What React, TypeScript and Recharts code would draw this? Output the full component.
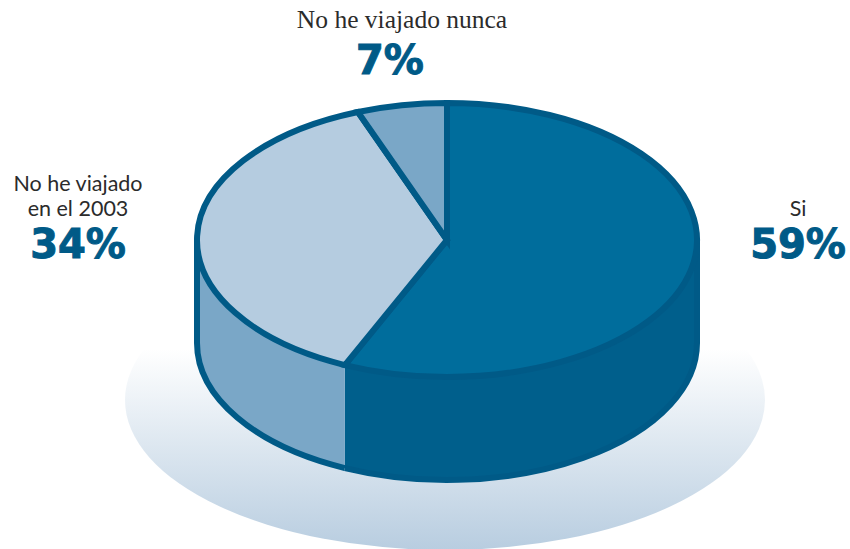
import React from "react";
import { PieChart, Pie } from "recharts";

// Slice names and the percentages printed on the picture.
const categories = ["Si", "No he viajado en el 2003", "No he viajado nunca"];
const percentLabels = ["59%", "34%", "7%"];
const drawnShares = [56.7, 37.5, 5.8];
const backdropValues = [100];

const topColors = ["#006d9c", "#b5cce0", "#7aa7c7"];
const wallColors = ["#005f8c", "#7aa7c7", "#7aa7c7"];
const STROKE = "#005a87";
const STROKE_W = 6;
const SQUASH = 137 / 250;
const DEPTH = 103;

const sliceData = categories.map((name, i) => ({ name, value: drawnShares[i] }));
const backdropData = backdropValues.map((value) => ({ name: "base", value }));

const pt = (cx: number, cy: number, rx: number, ry: number, deg: number) => {
  const a = (deg * Math.PI) / 180;
  return [cx + rx * Math.cos(a), cy - ry * Math.sin(a)];
};

const TopSlice = (p: any) => {
  const rx = p.outerRadius;
  const ry = rx * SQUASH;
  const [x0, y0] = pt(p.cx, p.cy, rx, ry, p.startAngle);
  const [x1, y1] = pt(p.cx, p.cy, rx, ry, p.endAngle);
  const large = p.startAngle - p.endAngle > 180 ? 1 : 0;
  return (
    <path
      d={`M${p.cx},${p.cy}L${x0},${y0}A${rx},${ry} 0 ${large} 1 ${x1},${y1}Z`}
      fill={topColors[p.index ?? categories.indexOf(p.name)]}
      stroke={STROKE}
      strokeWidth={STROKE_W}
      strokeLinejoin="miter"
    />
  );
};

const WallSlice = (p: any) => {
  const rx = p.outerRadius;
  const ry = rx * SQUASH;
  const s = Math.min(p.startAngle, 0);
  const e = Math.max(p.endAngle, -180);
  if (s <= e) return <g />;
  const [x0, y0] = pt(p.cx, p.cy, rx, ry, s);
  const [x1, y1] = pt(p.cx, p.cy, rx, ry, e);
  const fill = wallColors[p.index ?? categories.indexOf(p.name)];
  const edge =
    (s === 0 ? `M${x0},${y0}L${x0},${y0 + DEPTH}` : `M${x0},${y0 + DEPTH}`) +
    `A${rx},${ry} 0 0 1 ${x1},${y1 + DEPTH}` +
    (e === -180 ? `L${x1},${y1}` : "");
  return (
    <g>
      <path
        d={`M${x0},${y0}A${rx},${ry} 0 0 1 ${x1},${y1}L${x1},${y1 + DEPTH}A${rx},${ry} 0 0 0 ${x0},${y0 + DEPTH}Z`}
        fill={fill}
        stroke="none"
      />
      <path d={edge} fill="none" stroke={STROKE} strokeWidth={STROKE_W} />
    </g>
  );
};

const Backdrop = (p: any) => {
  const rx = p.outerRadius;
  const ry = (rx * 150) / 320;
  return <ellipse cx={p.cx} cy={p.cy} rx={rx} ry={ry} fill="url(#baseFade)" />;
};

const labelFont = "Lato, 'Open Sans', sans-serif";
const percentStyle = {
  fontFamily: "'DejaVu Sans'",
  fontWeight: 700,
  fontSize: 40,
  fill: "#005a87",
  stroke: "#005a87",
  strokeWidth: 1,
  textAnchor: "middle" as const,
};
const captionStyle = { fontFamily: labelFont, fontSize: 21.5, fill: "#2b2b2b", textAnchor: "middle" as const };

export default function App() {
  return (
    <div style={{ position: "absolute", left: 0, top: 0, width: 850, height: 549, overflow: "hidden", background: "#fff" }}>
      <PieChart width={850} height={549} margin={{ top: 0, right: 0, bottom: 0, left: 0 }}>
        <defs>
          <linearGradient id="baseFade" x1="0" y1="0" x2="0" y2="1">
            <stop offset="0.33" stopColor="#ffffff" />
            <stop offset="1" stopColor="#b8cde0" />
          </linearGradient>
        </defs>
        <Pie data={backdropData} dataKey="value" cx={445} cy={400} outerRadius={320} innerRadius={0} startAngle={90} endAngle={-270} stroke="none" isAnimationActive={false} shape={Backdrop} />
        <Pie data={sliceData} dataKey="value" cx={447} cy={240} outerRadius={250} innerRadius={0} startAngle={90} endAngle={-270} paddingAngle={0} isAnimationActive={false} shape={WallSlice} />
        <Pie data={sliceData} dataKey="value" cx={447} cy={240} outerRadius={250} innerRadius={0} startAngle={90} endAngle={-270} paddingAngle={0} isAnimationActive={false} shape={TopSlice} />
        <text x={402} y={28} style={{ fontFamily: "'Liberation Serif', serif", fontSize: 25.5, fill: "#2b2b2b", textAnchor: "middle" }}>{categories[2]}</text>
        <text x={390} y={74} style={percentStyle}>{percentLabels[2]}</text>
        <text x={78} y={191} style={captionStyle}>No he viajado</text>
        <text x={78} y={216} style={captionStyle}>en el 2003</text>
        <text x={78} y={258} style={percentStyle}>{percentLabels[1]}</text>
        <text x={798} y={216} style={captionStyle}>{categories[0]}</text>
        <text x={798} y={258} style={percentStyle}>{percentLabels[0]}</text>
      </PieChart>
    </div>
  );
}
